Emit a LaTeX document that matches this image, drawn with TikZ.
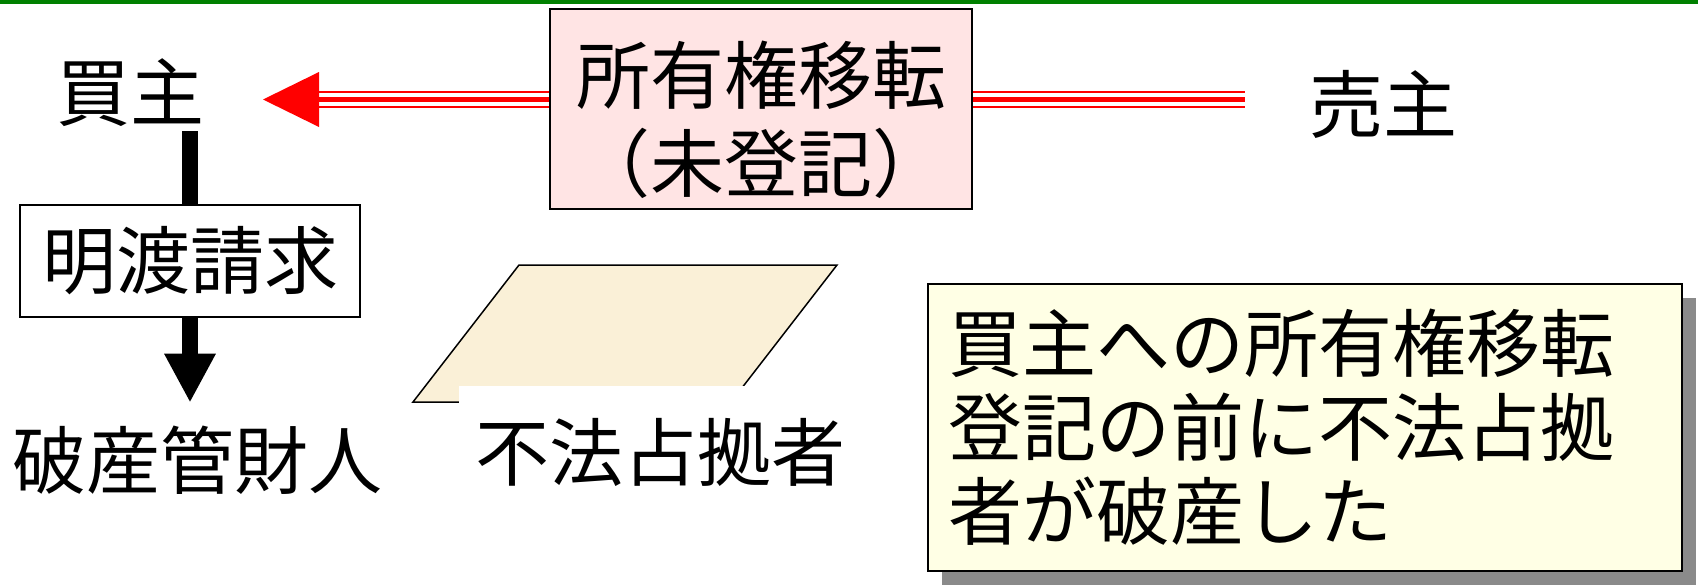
\documentclass[tikz,border=0pt]{standalone}
\usepackage{fontspec}
\newfontfamily\jpfont{Noto Sans CJK JP}
\usetikzlibrary{arrows.meta}
\usetikzlibrary{positioning}
\usetikzlibrary{shadows}
\definecolor{topgreen}{RGB}{0,128,0}
\definecolor{boxpink}{RGB}{255,228,228}
\definecolor{noteyellow}{RGB}{255,255,229}
\definecolor{parchment}{RGB}{250,240,215}
\definecolor{shadowgray}{RGB}{138,138,138}

\begin{document}
\begin{tikzpicture}[line cap=butt,line join=miter,x=0.5pt,y=-0.5pt,
  every node/.style={font=\jpfont\fontsize{37}{42}\selectfont},
  plainbox/.style={draw=black,line width=0.75pt,minimum width=170pt,minimum height=56pt,inner sep=0pt},
  pinkbox/.style={draw=black,line width=1pt,fill=boxpink,minimum width=211pt,minimum height=100pt,
    align=center,inner sep=0pt,font=\jpfont\fontsize{37}{44}\selectfont},
  notebox/.style={draw=black,line width=1pt,fill=noteyellow,
    drop shadow={shadow xshift=7pt,shadow yshift=-7pt,fill=shadowgray,opacity=1},
    text width=357pt,inner xsep=10pt,inner ysep=0pt,minimum height=143.5pt,align=left},
  bigarrow/.style={line width=8pt,-{Triangle[length=24.5pt,width=24pt]}}]
\useasboundingbox (0,0) rectangle (1698,584);
\fill[topgreen] (0,0) rectangle (1698,3.5);
% parties and boxes
\node[inner sep=2pt] (buyer) at (130,93) {買主};
\node (seller) at (1383,104) {売主};
\node[pinkbox] (transfer) at (761,109) {\rule{0pt}{41.6pt}所有権移転\\（未登記）};
\node[plainbox] (demand) at (190,261) {明渡請求};
\node (trustee) at (197,460) {破産管財人};
% squatter sheet
\draw[fill=parchment,line width=0.75pt] (519,265) -- (837,265) -- (731,402) -- (413,402) -- cycle;
\node[fill=white,minimum width=201pt,minimum height=66pt,inner sep=0pt] (squatter) at (660,452) {不法占拠者};
\node[notebox] (note) at (1305,427.5) {買主への所有権移転\\登記の前に不法占拠\\者が破産した};
% red transfer line
\coordinate (tip) at (263,99.5);
\coordinate (headbase) at (319,99.5);
\coordinate (lineend) at (1245,99.5);
\foreach \w/\c in {8.8pt/red,6.2pt/white,2.8pt/red}
{
\draw[line width=\w,color=\c] (headbase) -- (transfer.west |- tip);
\draw[line width=\w,color=\c] (transfer.east |- tip) -- (lineend);
}
\fill[red] (tip) -- ++(56,-27.5) -- ++(0,55) -- cycle;
% demand arrow
\draw[line width=8pt] (buyer.south -| demand.north) -- (demand.north);
\draw[bigarrow,shorten >=8pt] (demand.south) -- (demand.south |- trustee.north);
\end{tikzpicture}
\end{document}
